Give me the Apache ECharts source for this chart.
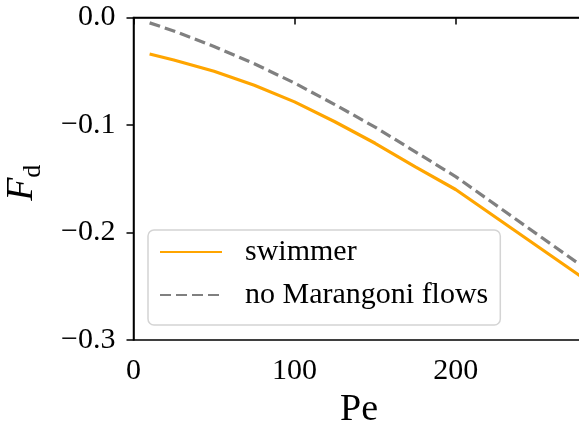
<!DOCTYPE html>
<html>
<head>
<meta charset="utf-8">
<script src="https://cdn.jsdelivr.net/npm/echarts@6/dist/echarts.min.js"></script>
<style>
  html, body { margin: 0; padding: 0; background: #fff; }
  #chart { width: 579px; height: 423px; }
</style>
</head>
<body>
<div id="chart"></div>
<script>
// data
var peValues = [10, 25, 50, 75, 100, 125, 150, 175, 200, 300];
var swimmerFd = [-0.034, -0.0395, -0.050, -0.063, -0.0785, -0.097, -0.117, -0.139, -0.160, -0.264];
var noMarangoniFd = [-0.005, -0.0125, -0.027, -0.043, -0.061, -0.081, -0.102, -0.125, -0.148, -0.254];
var seriesNames = ['swimmer', 'no Marangoni flows'];
var xTicks = [0, 100, 200];

var font = 'Liberation Serif, Times New Roman, serif';

var pairs = function(xs, ys) {
    var list = [];
    for (var i = 0; i < xs.length; i++) {
        list.push([xs[i], ys[i]]);
    }
    return list;
};

var chart = echarts.init(document.getElementById('chart'));
chart.setOption({
    animation: false,
    grid: {
        left: 133.5, top: 17.5, right: -5.5, bottom: 83,
        outerBoundsMode: 'none',
        show: true, borderColor: '#000', borderWidth: 1.5
    },
    legend: {
        orient: 'vertical',
        left: 148, top: 230,
        padding: [6, 12, 14, 11],
        itemWidth: 62, itemHeight: 14, itemGap: 11,
        // hide the dot ECharts puts on line icons
        itemStyle: { opacity: 0 },
        backgroundColor: 'rgba(255,255,255,0.8)',
        borderColor: '#d4d4d4', borderWidth: 1.5, borderRadius: 6,
        textStyle: { fontFamily: font, fontSize: 30, color: '#000', lineHeight: 32, padding: [0, 0, 0, 18] },
        data: seriesNames
    },
    xAxis: {
        type: 'value', min: 0, max: 280, interval: 100,
        name: 'Pe', nameLocation: 'middle', nameGap: 50,
        nameTextStyle: { fontFamily: font, fontSize: 38, color: '#000' },
        axisLine: { lineStyle: { color: '#000', width: 1.5 } },
        axisTick: { length: 7, lineStyle: { color: '#000', width: 1.5 }, customValues: xTicks },
        axisLabel: { fontFamily: font, fontSize: 30, color: '#000', margin: 16, customValues: xTicks },
        splitLine: { show: false }
    },
    yAxis: {
        type: 'value', min: -0.3, max: 0, interval: 0.1,
        name: '{f|F}{d|d}', nameLocation: 'middle', nameGap: 87, nameRotate: 90,
        nameTextStyle: {
            rich: {
                f: { fontFamily: font, fontSize: 38, fontStyle: 'italic', color: '#000', padding: [0, 0, 5, 0] },
                d: { fontFamily: font, fontSize: 26, color: '#000', verticalAlign: 'bottom', padding: [0, 8, 0, 0] }
            }
        },
        axisLine: { lineStyle: { color: '#000', width: 1.5 } },
        axisTick: { length: 7, lineStyle: { color: '#000', width: 1.5 } },
        axisLabel: {
            fontFamily: font, fontSize: 30, color: '#000', margin: 18,
            formatter: function(v) {
                if (Math.abs(v) < 1e-9) return '0.0';
                return '\u2212' + Math.abs(v).toFixed(1);
            }
        },
        splitLine: { show: false }
    },
    series: [
        {
            name: seriesNames[0], type: 'line', symbol: 'none',
            data: pairs(peValues, swimmerFd),
            lineStyle: { color: '#FFA500', width: 3.2 },
            itemStyle: { color: '#FFA500' }
        },
        {
            name: seriesNames[1], type: 'line', symbol: 'none',
            data: pairs(peValues, noMarangoniFd),
            lineStyle: { color: '#808080', width: 3.2, type: [11, 5] },
            itemStyle: { color: '#808080' }
        }
    ]
});
</script>
</body>
</html>
